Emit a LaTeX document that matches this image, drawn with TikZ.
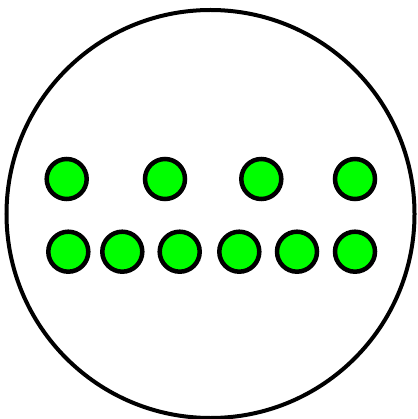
\documentclass[tikz,border=0pt]{standalone}
\usetikzlibrary{calc}

\begin{document}
\begin{tikzpicture}[x=1pt, y=-1pt]
    % Define colours
    \definecolor{borderColour}{HTML}{000000}
    \definecolor{dotColour}{HTML}{00FF00}

    % Define dot radius
    \def\dotRadius{20}

    % Fix the canvas
    \useasboundingbox (0,0) rectangle (417,419);

    % Draw the outer circle
    \coordinate (centre) at (210.5,214);
    \draw[borderColour, line width=4pt] (centre) circle [radius=204];

    % Draw the upper row of dots
    \foreach \x [count=\i] in {66.7,165,261.3,355}
        \filldraw[fill=dotColour, draw=borderColour, line width=4.5pt]
            (\x,179) coordinate (top\i) circle [radius=\dotRadius];

    % Draw the lower row of dots
    \foreach \x [count=\i] in {68.3,122.3,179.7,239.3,297,355}
        \filldraw[fill=dotColour, draw=borderColour, line width=4.5pt]
            (\x,251.7) coordinate (bottom\i) circle [radius=\dotRadius];

\end{tikzpicture}
\end{document}
